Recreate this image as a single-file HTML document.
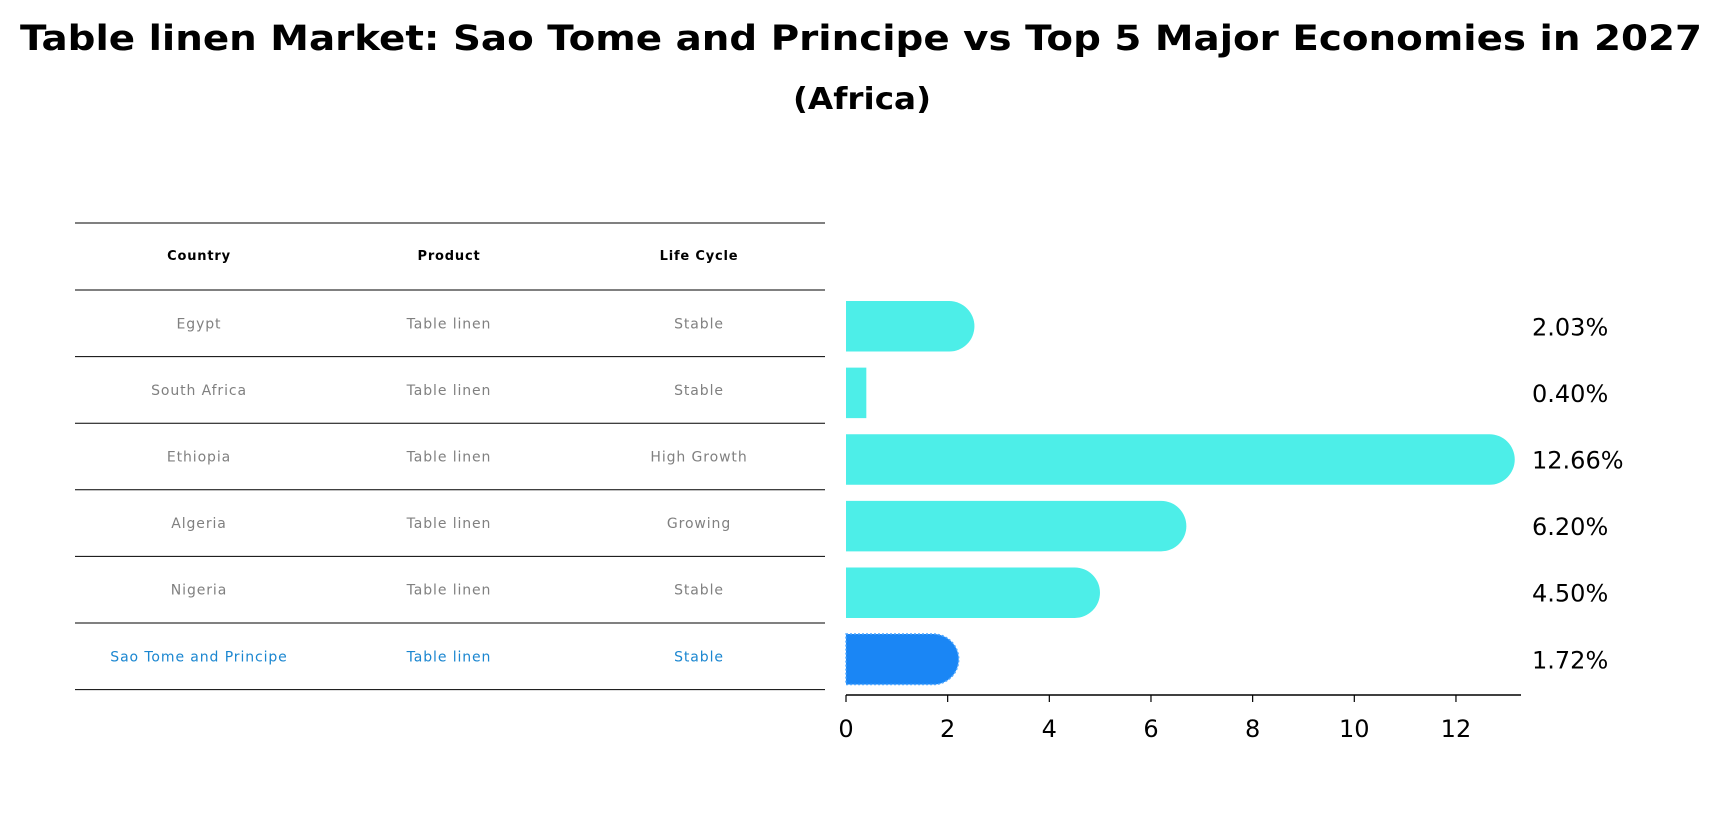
<!DOCTYPE html>
<html><head><meta charset="utf-8"><style>
html,body{margin:0;padding:0;background:#fff;}
svg{display:block;font-family:"DejaVu Sans","Liberation Sans",sans-serif;}
</style></head><body>
<svg width="1722" height="823" viewBox="0 0 1722 823">
<text x="861" y="50" text-anchor="middle" font-size="35" font-weight="bold" textLength="1682" lengthAdjust="spacingAndGlyphs">Table linen Market: Sao Tome and Principe vs Top 5 Major Economies in 2027</text>
<text x="862" y="109" text-anchor="middle" font-size="30" font-weight="bold" textLength="138" lengthAdjust="spacingAndGlyphs">(Africa)</text>
<g id="table"></g>
<g id="bars"></g>
</svg>
<script>
const countries=["Egypt","South Africa","Ethiopia","Algeria","Nigeria","Sao Tome and Principe"];
const products=["Table linen","Table linen","Table linen","Table linen","Table linen","Table linen"];
const lifeCycles=["Stable","Stable","High Growth","Growing","Stable","Stable"];
const values=[2.03,0.40,12.66,6.20,4.50,1.72];
const ticks=[0,2,4,6,8,10,12];
const NS="http://www.w3.org/2000/svg";
function mk(tag,attrs,parent,text){const e=document.createElementNS(NS,tag);for(const k in attrs)e.setAttribute(k,attrs[k]);if(text!==undefined)e.textContent=text;parent.appendChild(e);return e;}
const x0=846,pxPerUnit=50.83,axisY=695,rowH=66.6,firstRow=290,barH=50.5;
const xs=v=>x0+v*pxPerUnit;
const rowTop=i=>firstRow+i*rowH;
const tbl=document.getElementById('table');
const colX=[199,449,699];
const headers=["Country","Product","Life Cycle"];
let l=mk('line',{x1:75,x2:825,y1:223,y2:223,stroke:'#000','stroke-width':1},tbl);


headers.forEach((h,j)=>{const t=mk('text',{x:colX[j],y:260,'text-anchor':'middle','font-size':13,'font-weight':'bold','letter-spacing':'0.8'},tbl,h);

});
for(let i=0;i<=countries.length;i++){const y=rowTop(i);const ln=mk('line',{x1:75,x2:825,y1:y,y2:y,stroke:'#000','stroke-width':1},tbl);

}
countries.forEach((c,i)=>{const hl=i===countries.length-1;const col=hl?'#1a86d0':'#808080';const cy=rowTop(i)+rowH/2+5;
[c,products[i],lifeCycles[i]].forEach((v,j)=>{const t=mk('text',{x:colX[j],y:cy,'text-anchor':'middle','font-size':14,fill:col,'letter-spacing':'0.9'},tbl,v);

});});
const g=document.getElementById('bars');
values.forEach((v,i)=>{const cy=rowTop(i)+rowH/2+3;const w=xs(v)-x0;const r=barH/2;const hl=i===values.length-1;
const fill=hl?'#1a86f5':'#4deee8';
let d;
if(w>r){d=`M${x0},${cy-r} H${xs(v)} A${r},${r} 0 0 1 ${xs(v)},${cy+r} H${x0} Z`;}else{d=`M${x0},${cy-r} H${x0+w} V${cy+r} H${x0} Z`;}
const p=mk('path',{d:d,fill:fill},g);
if(hl){p.setAttribute('stroke','#4da6ff');p.setAttribute('stroke-dasharray','2,2');p.setAttribute('stroke-width','1.5');}


const t=mk('text',{x:1532,y:cy+9,'font-size':24},g,v.toFixed(2)+'%');

});
const ax=mk('line',{x1:x0,x2:1521,y1:axisY,y2:axisY,stroke:'#000','stroke-width':1.5},g);


ticks.forEach(tv=>{const tk=mk('line',{x1:xs(tv),x2:xs(tv),y1:axisY,y2:axisY+7,stroke:'#000','stroke-width':1.2},g);


const t=mk('text',{x:xs(tv),y:737,'text-anchor':'middle','font-size':24},g,String(tv));

});
</script>
</body></html>
